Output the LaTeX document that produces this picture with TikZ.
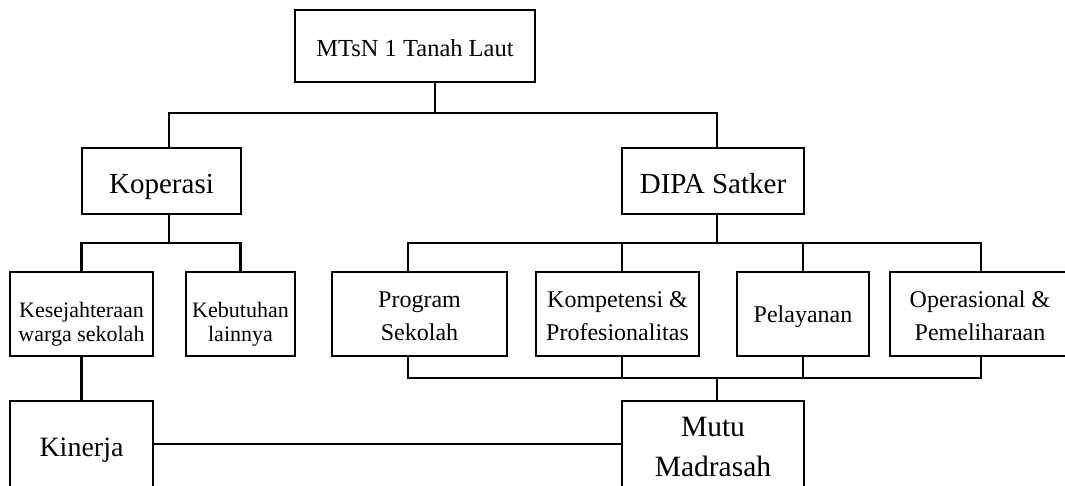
\documentclass[tikz,border=0pt]{standalone}
\usepackage{fontspec}
\setmainfont{Liberation Serif}
\begin{document}
\begin{tikzpicture}[x=1pt,y=-1pt,
  conn/.style={line width=2.5pt, line join=miter},
  box/.style={draw, line width=2.5pt, inner sep=0pt, align=center, fill=white},
  big/.style={font=\fontsize{29}{35}\selectfont},
  mid/.style={font=\fontsize{24}{33}\selectfont},
  small/.style={font=\fontsize{22}{24}\selectfont}]
\useasboundingbox (0,0) rectangle (1065,485);
\clip (0,0) rectangle (1065,485);
% boxes
\node[box, font=\fontsize{24.5}{30}\selectfont, minimum width=240pt, minimum height=72pt, text height=20pt, text depth=0pt] (top) at (415,46) {MTsN 1 Tanah Laut};
\node[box, big, minimum width=159pt, minimum height=66pt, text height=24pt, text depth=0pt] (kop) at (161.5,181) {Koperasi};
\node[box, big, minimum width=182pt, minimum height=66pt, text height=24pt, text depth=0pt] (dipa) at (713,181) {DIPA Satker};
\node[box, small, minimum width=143pt, minimum height=84pt, text height=54pt, text depth=0pt] (kes) at (81.5,314) {Kesejahteraan\\warga sekolah};
\node[box, small, minimum width=109pt, minimum height=84pt, text height=54pt, text depth=0pt] (keb) at (240.5,314) {Kebutuhan\\lainnya};
\node[box, mid, minimum width=175pt, minimum height=84pt, text height=52pt, text depth=0pt] (prog) at (419.5,314) {Program\\Sekolah};
\node[box, mid, minimum width=163pt, minimum height=84pt, text height=52pt, text depth=0pt] (komp) at (617.5,314) {Kompetensi \&\\Profesionalitas};
\node[box, mid, minimum width=132pt, minimum height=84pt, text height=16pt, text depth=0pt] (pel) at (803,314) {Pelayanan};
\node[box, mid, minimum width=180pt, minimum height=84pt, text height=52pt, text depth=0pt] (oper) at (980,314) {Operasional \&\\Pemeliharaan};
\node[box, font=\fontsize{28}{34}\selectfont, minimum width=143pt, minimum height=99pt, text height=11pt, text depth=0pt] (kin) at (81.5,450.5) {Kinerja};
\node[box, font=\fontsize{29.5}{40}\selectfont, minimum width=182pt, minimum height=99pt, text height=51pt, text depth=0pt] (mutu) at (713,450.5) {Mutu\\Madrasah};
% junction coordinates
\coordinate (b1) at (435,113);
\coordinate (b1L) at (169,113);
\coordinate (b1R) at (717,113);
\coordinate (b2) at (169,243);
\coordinate (b2L) at (81.5,243);
\coordinate (b2R) at (240.5,243);
\coordinate (b3) at (717,243);
\coordinate (b3a) at (408,243);
\coordinate (b3b) at (622,243);
\coordinate (b3c) at (803,243);
\coordinate (b3d) at (981,243);
\coordinate (b4) at (717,378);
\coordinate (b4a) at (408,378);
\coordinate (b4b) at (622,378);
\coordinate (b4c) at (803,378);
\coordinate (b4d) at (981,378);
\coordinate (hk) at (0,444);
% connectors
\draw[conn] (top.south -| b1) -- (b1);
\draw[conn] (kop.north -| b1L) -- (b1L) -- (b1R) -- (dipa.north -| b1R);
\draw[conn] (kop.south -| b2) -- (b2);
\draw[conn] (kes.north -| b2L) -- (b2L) -- (b2R) -- (keb.north -| b2R);
\draw[conn] (dipa.south -| b3) -- (b3);
\draw[conn] (prog.north -| b3a) -- (b3a) -- (b3d) -- (oper.north -| b3d);
\draw[conn] (komp.north -| b3b) -- (b3b);
\draw[conn] (pel.north -| b3c) -- (b3c);
\draw[conn] (prog.south -| b4a) -- (b4a) -- (b4d) -- (oper.south -| b4d);
\draw[conn] (komp.south -| b4b) -- (b4b);
\draw[conn] (pel.south -| b4c) -- (b4c);
\draw[conn] (b4) -- (mutu.north -| b4);
\draw[conn] (kes.south) -- (kin.north);
\draw[conn] (kin.east |- hk) -- (mutu.west |- hk);
\end{tikzpicture}
\end{document}
